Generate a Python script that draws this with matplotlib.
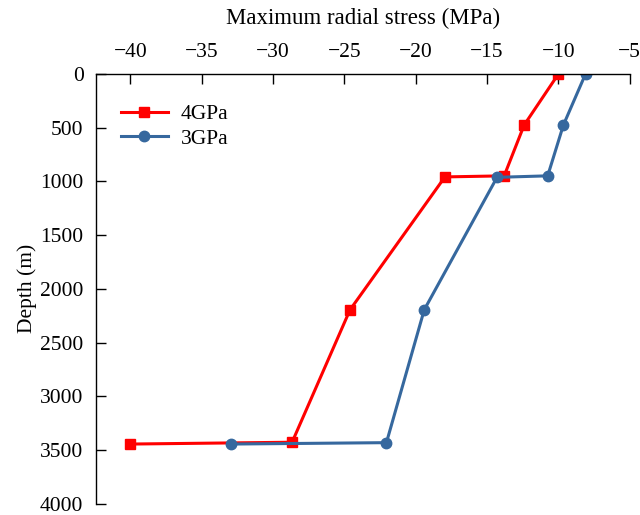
import matplotlib
matplotlib.use("Agg")
import matplotlib.pyplot as plt

plt.rcParams['font.family'] = ['Liberation Serif', 'DejaVu Serif']
plt.rcParams['axes.unicode_minus'] = True

depth_4gpa = [0, 475, 948, 958, 2195, 3428, 3445]
stress_4gpa = [-10.0, -12.4, -13.8, -17.95, -24.6, -28.66, -40.0]
depth_3gpa = [0, 475, 948, 962, 2195, 3432, 3445]
stress_3gpa = [-8.1, -9.65, -10.75, -14.3, -19.4, -22.05, -32.95]
xticks = [-40, -35, -30, -25, -20, -15, -10, -5]
yticks = [0, 500, 1000, 1500, 2000, 2500, 3000, 3500, 4000]

fig = plt.figure(figsize=(6.4, 5.15), dpi=100)
ax = fig.add_axes([0.15, 0.022, 0.834, 0.8343])

ax.plot(stress_4gpa, depth_4gpa, color='#FF0000', lw=2.2, marker='s', ms=7, label='4GPa')
ax.plot(stress_3gpa, depth_3gpa, color='#36689E', lw=2.2, marker='o', ms=7.5, label='3GPa')

ax.set_xlim(-42.4, -5)
ax.set_ylim(4000, 0)
ax.xaxis.tick_top()
ax.xaxis.set_label_position('top')
ax.set_xticks(xticks)
ax.set_yticks(yticks)
ax.spines['right'].set_visible(False)
ax.spines['bottom'].set_visible(False)
for s in ('top', 'left'):
    ax.spines[s].set_linewidth(1.0)
ax.tick_params(axis='both', direction='in', length=7, width=1, labelsize=15.5)
ax.tick_params(axis='x', pad=9)
ax.tick_params(axis='y', pad=9)
ax.set_xlabel('Maximum radial stress (MPa)', fontsize=16.5, labelpad=13)
ax.set_ylabel('Depth (m)', fontsize=15.5, labelpad=2)

ax.legend(loc='upper left', bbox_to_anchor=(0.01, 0.975), frameon=False, fontsize=15.5,
          handlelength=2.2, handletextpad=0.6, labelspacing=0.22, borderaxespad=0.5)

fig.savefig('out.png', dpi=100)
